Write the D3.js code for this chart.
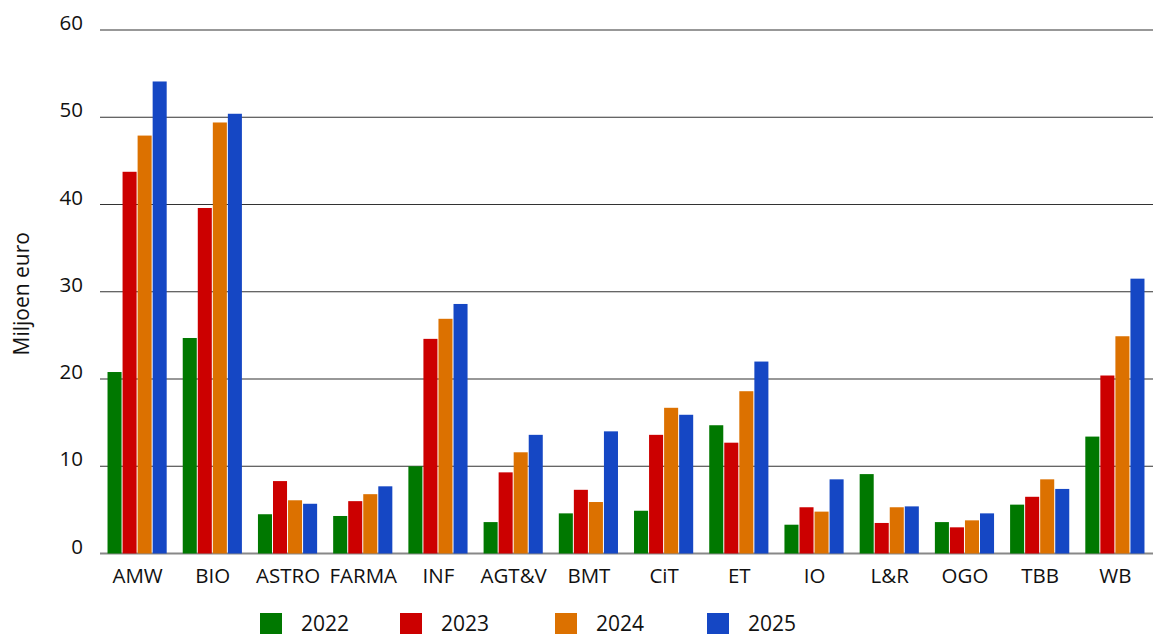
<!DOCTYPE html>
<html>
<head>
<meta charset="utf-8">
<script src="https://cdn.jsdelivr.net/npm/d3@7"></script>
<style>
  html, body { margin: 0; padding: 0; background: #fff; }
  svg { display: block; font-family: "Open Sans", sans-serif; }
</style>
</head>
<body>
<svg id="chart" width="1153" height="636"></svg>
<script>
const categories = ["AMW", "BIO", "ASTRO", "FARMA", "INF", "AGT&V", "BMT", "CiT", "ET", "IO", "L&R", "OGO", "TBB", "WB"];
const seriesNames = ["2022", "2023", "2024", "2025"];
const values2022 = [20.8, 24.7, 4.5, 4.3, 10.0, 3.6, 4.6, 4.9, 14.7, 3.3, 9.1, 3.6, 5.6, 13.4];
const values2023 = [43.75, 39.6, 8.3, 6.0, 24.6, 9.3, 7.3, 13.6, 12.7, 5.3, 3.5, 3.0, 6.5, 20.4];
const values2024 = [47.9, 49.4, 6.1, 6.8, 26.9, 11.6, 5.9, 16.7, 18.6, 4.8, 5.3, 3.8, 8.5, 24.9];
const values2025 = [54.1, 50.4, 5.7, 7.7, 28.6, 13.6, 14.0, 15.9, 22.0, 8.5, 5.4, 4.6, 7.4, 31.5];
const yTicks = [0, 10, 20, 30, 40, 50, 60];
const colors = ["#007800", "#cc0000", "#dc7100", "#1547c4"];
const yLabel = "Miljoen euro";

const seriesValues = [values2022, values2023, values2024, values2025];

const svg = d3.select("#chart");
const plot = { left: 100, right: 1153, top: 30, bottom: 553.5 };

const x0 = d3.scaleBand().domain(categories).range([plot.left, plot.right]).paddingInner(0.2).paddingOuter(0.1);
const x1 = d3.scaleBand().domain(seriesNames).range([0, x0.bandwidth()]);
const y = d3.scaleLinear().domain([0, 60]).range([plot.bottom, plot.top]);

// gridlines
svg.append("g").selectAll("line").data(yTicks).join("line")
  .attr("x1", plot.left).attr("x2", plot.right)
  .attr("y1", d => y(d)).attr("y2", d => y(d))
  .attr("stroke", d => d === 0 ? "#888" : "#333")
  .attr("stroke-width", d => d === 0 ? 2 : 1.2);

// y tick labels
svg.append("g").selectAll("text").data(yTicks).join("text")
  .attr("x", 83).attr("y", d => y(d))
  .attr("text-anchor", "end")
  .attr("font-size", 20.5).attr("fill", "#111")
  .text(d => d);

// y axis title
svg.append("text")
  .attr("transform", `translate(29,${(plot.top + plot.bottom) / 2 + 2}) rotate(-90)`)
  .attr("text-anchor", "middle")
  .attr("font-size", 21).attr("fill", "#111")
  .text(yLabel);

// bars
const groups = svg.append("g").selectAll("g").data(categories).join("g")
  .attr("transform", d => `translate(${x0(d)},0)`);
groups.selectAll("rect")
  .data((c, i) => seriesNames.map((s, k) => ({ s, k, v: seriesValues[k][i] })))
  .join("rect")
  .attr("x", d => x1(d.s))
  .attr("width", x1.bandwidth() - 1)
  .attr("y", d => y(d.v))
  .attr("height", d => y(0) - y(d.v))
  .attr("fill", d => colors[d.k]);

// category labels
svg.append("g").selectAll("text").data(categories).join("text")
  .attr("x", d => x0(d) + x0.bandwidth() / 2)
  .attr("y", 583)
  .attr("text-anchor", "middle")
  .attr("font-size", 20.5).attr("fill", "#111")
  .text(d => d);

// legend
const legendX = [260, 400, 555, 707];
const legend = svg.append("g").selectAll("g").data(seriesNames).join("g")
  .attr("transform", (d, i) => `translate(${legendX[i]},613)`);
legend.append("rect").attr("width", 22).attr("height", 21).attr("fill", (d, i) => colors[i]);
legend.append("text").attr("x", 41).attr("y", 18)
  .attr("font-size", 21).attr("fill", "#111")
  .text(d => d);
</script>
</body>
</html>
